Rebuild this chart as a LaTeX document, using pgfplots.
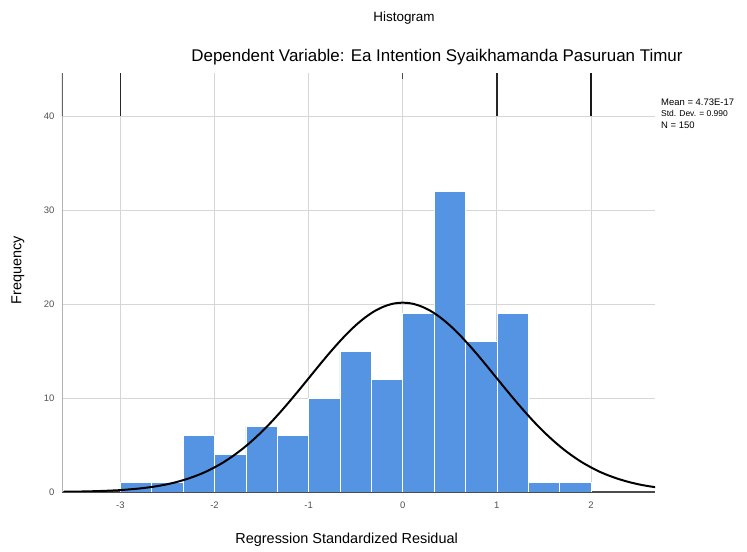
\documentclass[border=0pt]{standalone}
\usepackage{fontspec}
\setmainfont{Liberation Sans}
\usepackage{pgfplots}
\pgfplotsset{compat=1.18}
\definecolor{barblue}{RGB}{84,148,227}
\definecolor{gridgray}{RGB}{214,214,214}
\definecolor{ticktext}{RGB}{80,80,80}

\begin{document}
\begin{tikzpicture}[x=1bp,y=1bp]
\useasboundingbox (-62,-60) rectangle (685,492);
\begin{axis}[
  at={(0,0)}, anchor=south west,
  scale only axis, width=593bp, height=419bp,
  xmin=-3.62, xmax=2.68, ymin=0, ymax=44.6,
  axis x line*=bottom, axis y line*=left,
  x axis line style={draw=black!70, line width=1.2pt, -},
  y axis line style={draw=black!30, line width=1pt, -},
  xtick={-3,-2,-1,0,1,2}, ytick={0,10,20,30,40},
  major tick length=0pt,
  grid=major, major grid style={gridgray, line width=1pt},
  tick label style={font=\fontsize{9.5}{10}\selectfont, text=ticktext},
  /pgf/number format/assume math mode=true,
  xticklabel style={yshift=-6bp},
  yticklabel style={xshift=-4bp},
  xlabel={Regression Standardized Residual},
  ylabel={Frequency},
  label style={font=\fontsize{14.5}{16}\selectfont},
  xlabel style={at={(axis description cs:0.48,0)}, anchor=center, yshift=-48bp},
  ylabel style={at={(axis description cs:-0.0742,0.53)}, anchor=center},
]
% histogram of the standardized residuals, bin width 1/3
\addplot[ybar interval, fill=barblue, draw=white, line width=0.7pt] coordinates {
  (-3,1) (-2.6667,1) (-2.3333,6) (-2,4) (-1.6667,7) (-1.3333,6)
  (-1,10) (-0.6667,15) (-0.3333,12) (0,19) (0.3333,32) (0.6667,16)
  (1,19) (1.3333,1) (1.6667,1) (2,1)
};
% fitted normal curve
\addplot[black, line width=2pt, smooth] coordinates {
  (-3.6,0.027) (-3.5,0.039) (-3.4,0.055) (-3.3,0.078) (-3.2,0.11) (-3.1,0.15)
  (-3.0,0.20) (-2.9,0.28) (-2.8,0.37) (-2.7,0.49) (-2.6,0.64) (-2.5,0.83)
  (-2.4,1.07) (-2.3,1.36) (-2.2,1.71) (-2.1,2.12) (-2.0,2.62) (-1.9,3.19)
  (-1.8,3.86) (-1.7,4.61) (-1.6,5.46) (-1.5,6.39) (-1.4,7.41) (-1.3,8.51)
  (-1.2,9.67) (-1.1,10.87) (-1.0,12.10) (-0.9,13.33) (-0.8,14.54) (-0.7,15.69)
  (-0.6,16.77) (-0.5,17.74) (-0.4,18.57) (-0.3,19.25) (-0.2,19.74) (-0.1,20.05)
  (0,20.15) (0.1,20.05) (0.2,19.74) (0.3,19.25) (0.4,18.57) (0.5,17.74)
  (0.6,16.77) (0.7,15.69) (0.8,14.54) (0.9,13.33) (1.0,12.10) (1.1,10.87)
  (1.2,9.67) (1.3,8.51) (1.4,7.41) (1.5,6.39) (1.6,5.46) (1.7,4.61)
  (1.8,3.86) (1.9,3.19) (2.0,2.62) (2.1,2.12) (2.2,1.71) (2.3,1.36)
  (2.4,1.07) (2.5,0.83) (2.6,0.64) (2.7,0.49)
};
% dark tick strokes above the top gridline
\addplot[black!85, line width=1.6pt, forget plot] coordinates {(-3,40) (-3,44.6)};
\addplot[black!85, line width=1.6pt, forget plot] coordinates {(1,40) (1,44.6)};
\addplot[black!90, line width=2pt, forget plot] coordinates {(2,40) (2,44.6)};
\addplot[black!70, line width=1.2pt, forget plot] coordinates {(0,44) (0,44.6)};
\addplot[black!60, line width=1.2pt, forget plot] coordinates {(-3.62,40) (-3.62,44.6)};
\end{axis}
% titles
\node[font=\fontsize{13.5}{15}\selectfont] at (342,474) {Histogram};
\node[font=\fontsize{17}{19}\selectfont] at (375,435) {Dependent Variable: Ea Intention Syaikhamanda Pasuruan Timur};
% summary statistics
\node[anchor=west, font=\fontsize{9.5}{10}\selectfont, inner sep=0pt] at (599,390) {Mean = 4.73E-17};
\node[anchor=west, font=\fontsize{8.5}{10}\selectfont, inner sep=0pt] at (599,379) {Std. Dev. = 0.990};
\node[anchor=west, font=\fontsize{9.5}{10}\selectfont, inner sep=0pt] at (599,367) {N = 150};
\end{tikzpicture}
\end{document}
